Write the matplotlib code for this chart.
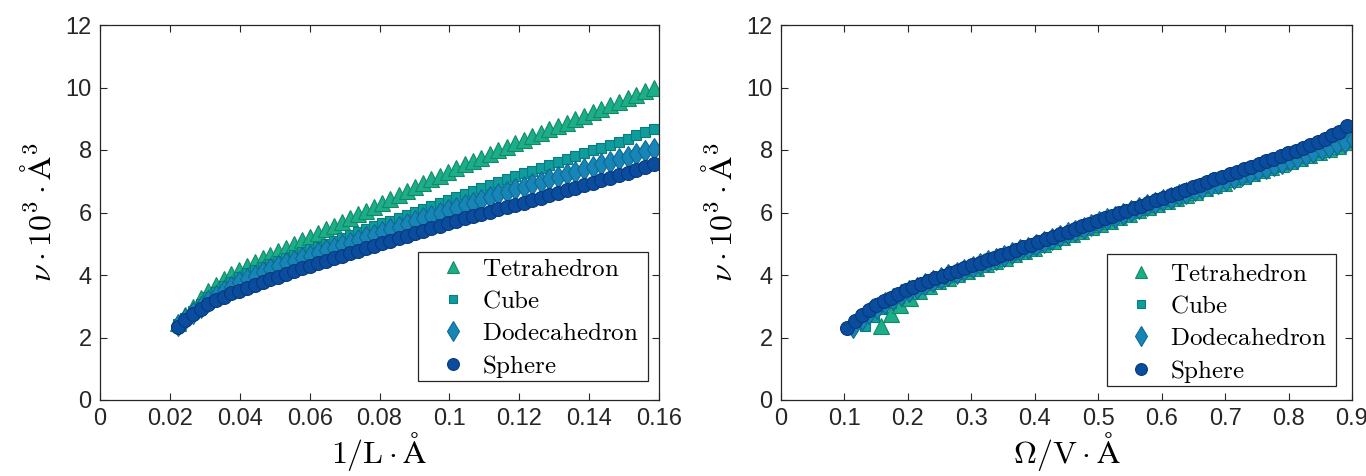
import matplotlib
matplotlib.use("Agg")
import matplotlib.pyplot as plt
from matplotlib.patches import Rectangle

plt.rcParams["mathtext.fontset"] = "cm"
plt.rcParams["font.family"] = ["Liberation Sans", "DejaVu Sans"]

# ---------------- left panel: nu vs 1/L ----------------
inv_L = [0.0223, 0.02447, 0.02665, 0.02883, 0.03102, 0.03321, 0.03541, 0.03762, 0.03984, 0.04206,
         0.04428, 0.04652, 0.04876, 0.05100, 0.05325, 0.05551, 0.05778, 0.06005, 0.06232, 0.06461,
         0.06690, 0.06919, 0.07150, 0.07380, 0.07612, 0.07844, 0.08077, 0.08310, 0.08544, 0.08779,
         0.09014, 0.09250, 0.09487, 0.09724, 0.09961, 0.10200, 0.10439, 0.10679, 0.10919, 0.11160,
         0.11401, 0.11644, 0.11886, 0.12130, 0.12374, 0.12619, 0.12864, 0.13110, 0.13357, 0.13604,
         0.13852, 0.14100, 0.14349, 0.14599, 0.14850, 0.15101, 0.15352, 0.15605, 0.15857]

nu_tetra_L = [2.45, 2.72, 2.98, 3.25, 3.49, 3.69, 3.88, 4.02, 4.17, 4.29,
              4.41, 4.53, 4.65, 4.77, 4.88, 5.00, 5.11, 5.22, 5.34, 5.46,
              5.58, 5.70, 5.82, 5.94, 6.06, 6.19, 6.31, 6.43, 6.56, 6.68,
              6.81, 6.93, 7.06, 7.18, 7.31, 7.42, 7.54, 7.65, 7.76, 7.88,
              7.99, 8.10, 8.21, 8.33, 8.44, 8.55, 8.66, 8.77, 8.88, 8.99,
              9.10, 9.21, 9.32, 9.43, 9.54, 9.65, 9.76, 9.88, 10.00]

nu_cube_L = [2.42, 2.63, 2.85, 3.08, 3.29, 3.47, 3.65, 3.79, 3.94, 4.05,
             4.15, 4.26, 4.36, 4.46, 4.55, 4.64, 4.73, 4.82, 4.91, 5.00,
             5.09, 5.18, 5.28, 5.37, 5.46, 5.56, 5.65, 5.74, 5.84, 5.93,
             6.03, 6.12, 6.22, 6.31, 6.40, 6.50, 6.60, 6.69, 6.79, 6.88,
             6.97, 7.07, 7.16, 7.25, 7.34, 7.43, 7.52, 7.61, 7.71, 7.80,
             7.90, 7.99, 8.08, 8.17, 8.26, 8.36, 8.47, 8.57, 8.68]

nu_dodeca_L = [2.40, 2.59, 2.79, 2.98, 3.16, 3.32, 3.48, 3.62, 3.77, 3.88,
               3.98, 4.09, 4.19, 4.29, 4.37, 4.45, 4.54, 4.62, 4.70, 4.79,
               4.87, 4.95, 5.04, 5.12, 5.21, 5.29, 5.38, 5.46, 5.55, 5.64,
               5.73, 5.81, 5.90, 5.98, 6.07, 6.15, 6.24, 6.32, 6.41, 6.49,
               6.58, 6.66, 6.74, 6.82, 6.90, 6.98, 7.07, 7.15, 7.23, 7.31,
               7.39, 7.47, 7.55, 7.63, 7.71, 7.79, 7.87, 7.96, 8.04]

nu_sphere_L = [2.35, 2.56, 2.75, 2.92, 3.07, 3.20, 3.31, 3.41, 3.50, 3.60,
               3.69, 3.78, 3.87, 3.95, 4.04, 4.13, 4.21, 4.30, 4.38, 4.46,
               4.54, 4.62, 4.70, 4.78, 4.86, 4.94, 5.02, 5.10, 5.18, 5.26,
               5.34, 5.42, 5.50, 5.58, 5.66, 5.74, 5.82, 5.89, 5.96, 6.03,
               6.10, 6.17, 6.24, 6.32, 6.40, 6.48, 6.56, 6.64, 6.72, 6.80,
               6.88, 6.95, 7.03, 7.11, 7.19, 7.27, 7.35, 7.45, 7.55]

# ---------------- right panel: nu vs Omega/V ----------------
sv_tetra = [0.158, 0.173, 0.188, 0.203, 0.218, 0.233, 0.248, 0.263, 0.278, 0.293,
            0.308, 0.323, 0.338, 0.353, 0.368, 0.383, 0.398, 0.413, 0.428, 0.443,
            0.458, 0.473, 0.488, 0.503, 0.518, 0.533, 0.548, 0.563, 0.578, 0.593,
            0.608, 0.623, 0.638, 0.653, 0.668, 0.683, 0.698, 0.713, 0.728, 0.743,
            0.758, 0.773, 0.788, 0.803, 0.818, 0.833, 0.848, 0.863, 0.878, 0.893, 0.908]
nu_tetra_S = [2.36, 2.75, 3.05, 3.28, 3.48, 3.66, 3.80, 3.92, 4.02, 4.14,
              4.24, 4.35, 4.45, 4.56, 4.67, 4.78, 4.88, 4.99, 5.10, 5.21,
              5.31, 5.42, 5.53, 5.64, 5.74, 5.85, 5.96, 6.07, 6.17, 6.28,
              6.38, 6.48, 6.57, 6.67, 6.77, 6.87, 6.96, 7.06, 7.16, 7.25,
              7.35, 7.45, 7.55, 7.64, 7.74, 7.84, 7.94, 8.03, 8.14, 8.25, 8.36]

sv_cube = [0.132, 0.146, 0.159, 0.173, 0.186, 0.200, 0.213, 0.227, 0.240, 0.254,
           0.267, 0.281, 0.294, 0.308, 0.321, 0.335, 0.348, 0.362, 0.375, 0.389,
           0.402, 0.416, 0.429, 0.443, 0.456, 0.470, 0.483, 0.497, 0.510, 0.524,
           0.537, 0.551, 0.564, 0.578, 0.591, 0.605, 0.618, 0.632, 0.645, 0.659,
           0.672, 0.686, 0.699, 0.713, 0.726, 0.740, 0.753, 0.767, 0.780, 0.794,
           0.807, 0.821, 0.834, 0.848, 0.861, 0.875, 0.888, 0.902]
nu_cube_S = [2.36, 2.66, 2.90, 3.10, 3.28, 3.42, 3.54, 3.67, 3.77, 3.87,
             3.97, 4.06, 4.16, 4.26, 4.35, 4.45, 4.55, 4.65, 4.74, 4.84,
             4.93, 5.03, 5.13, 5.23, 5.32, 5.42, 5.51, 5.61, 5.71, 5.81,
             5.90, 6.00, 6.09, 6.19, 6.29, 6.38, 6.46, 6.55, 6.63, 6.72,
             6.81, 6.90, 6.98, 7.07, 7.15, 7.24, 7.33, 7.42, 7.50, 7.59,
             7.67, 7.76, 7.85, 7.94, 8.02, 8.12, 8.21, 8.31]

sv_dodeca = [0.114, 0.127, 0.139, 0.152, 0.164, 0.177, 0.189, 0.202, 0.214, 0.227,
             0.239, 0.252, 0.264, 0.277, 0.289, 0.302, 0.314, 0.327, 0.339, 0.352,
             0.364, 0.377, 0.389, 0.402, 0.414, 0.427, 0.439, 0.452, 0.464, 0.477,
             0.489, 0.502, 0.514, 0.527, 0.539, 0.552, 0.564, 0.577, 0.589, 0.602,
             0.614, 0.627, 0.639, 0.652, 0.664, 0.677, 0.689, 0.702, 0.714, 0.727,
             0.739, 0.752, 0.764, 0.777, 0.789, 0.802, 0.814, 0.827, 0.839, 0.852,
             0.864, 0.877, 0.889, 0.902]
nu_dodeca_S = [2.33, 2.58, 2.77, 2.95, 3.10, 3.24, 3.37, 3.50, 3.60, 3.71,
               3.80, 3.90, 3.99, 4.07, 4.17, 4.26, 4.34, 4.44, 4.52, 4.62,
               4.70, 4.79, 4.88, 4.97, 5.06, 5.15, 5.24, 5.33, 5.42, 5.51,
               5.60, 5.69, 5.78, 5.87, 5.95, 6.05, 6.13, 6.23, 6.31, 6.39,
               6.47, 6.55, 6.63, 6.71, 6.79, 6.87, 6.95, 7.03, 7.11, 7.19,
               7.27, 7.35, 7.43, 7.51, 7.59, 7.68, 7.76, 7.84, 7.93, 8.02,
               8.10, 8.19, 8.27, 8.36]

sv_sphere = [0.104, 0.116, 0.127, 0.139, 0.150, 0.162, 0.174, 0.185, 0.197, 0.208,
             0.220, 0.231, 0.243, 0.255, 0.266, 0.278, 0.289, 0.301, 0.313, 0.324,
             0.336, 0.347, 0.359, 0.371, 0.382, 0.394, 0.405, 0.417, 0.429, 0.440,
             0.452, 0.463, 0.475, 0.486, 0.498, 0.510, 0.521, 0.533, 0.544, 0.556,
             0.568, 0.579, 0.591, 0.602, 0.614, 0.625, 0.637, 0.649, 0.660, 0.672,
             0.683, 0.695, 0.707, 0.718, 0.730, 0.741, 0.753, 0.764, 0.776, 0.788,
             0.799, 0.811, 0.822, 0.834, 0.846, 0.857, 0.869, 0.880, 0.892]
nu_sphere_S = [2.30, 2.52, 2.71, 2.88, 3.03, 3.16, 3.28, 3.40, 3.51, 3.61,
               3.71, 3.80, 3.89, 3.98, 4.06, 4.14, 4.23, 4.31, 4.39, 4.47,
               4.56, 4.64, 4.72, 4.81, 4.89, 4.97, 5.06, 5.14, 5.22, 5.31,
               5.39, 5.47, 5.56, 5.64, 5.72, 5.81, 5.89, 5.97, 6.06, 6.14,
               6.22, 6.31, 6.39, 6.47, 6.56, 6.64, 6.72, 6.81, 6.89, 6.97,
               7.06, 7.14, 7.22, 7.31, 7.39, 7.47, 7.56, 7.64, 7.72, 7.81,
               7.89, 7.98, 8.07, 8.16, 8.26, 8.36, 8.47, 8.59, 8.76]

labels = ["Tetrahedron", "Cube", "Dodecahedron", "Sphere"]
left_ticks = [0, 0.02, 0.04, 0.06, 0.08, 0.1, 0.12, 0.14, 0.16]
left_ticklabels = ["0", "0.02", "0.04", "0.06", "0.08", "0.1", "0.12", "0.14", "0.16"]
right_ticks = [0, 0.1, 0.2, 0.3, 0.4, 0.5, 0.6, 0.7, 0.8, 0.9]
right_ticklabels = ["0", "0.1", "0.2", "0.3", "0.4", "0.5", "0.6", "0.7", "0.8", "0.9"]
y_ticks = [0, 2, 4, 6, 8, 10, 12]

# marker styles per shape: (marker, size, face, edge)
styles = [
    ("^", 11.0, "#1cae88", "#128a68"),
    ("s", 7.5, "#0f9c9c", "#0a7c7e"),
    ("d", 11.5, "#1786b6", "#0f6896"),
    ("o", 10.0, "#0a4d9e", "#07397a"),
]

AXC = "#262626"

fig = plt.figure(figsize=(13.66, 4.76), dpi=100)
ax1 = fig.add_axes([100 / 1366, 76 / 476, 559 / 1366, 375 / 476])
ax2 = fig.add_axes([781 / 1366, 76 / 476, 571 / 1366, 375 / 476])


def draw(ax, xs, ys):
    for x, y, lab, (m, ms, fc, ec) in zip(xs, ys, labels, styles):
        ax.plot(x, y, linestyle="none", marker=m, markersize=ms,
                markerfacecolor=fc, markeredgecolor=ec, markeredgewidth=0.8,
                label=r"$\mathrm{" + lab + "}$")


draw(ax1, [inv_L] * 4, [nu_tetra_L, nu_cube_L, nu_dodeca_L, nu_sphere_L])
draw(ax2, [sv_tetra, sv_cube, sv_dodeca, sv_sphere],
     [nu_tetra_S, nu_cube_S, nu_dodeca_S, nu_sphere_S])

for ax, ticks, tlabels, xmax in [(ax1, left_ticks, left_ticklabels, 0.16),
                                  (ax2, right_ticks, right_ticklabels, 0.9)]:
    ax.set_xlim(0, xmax)
    ax.set_ylim(0, 12)
    ax.set_xticks(ticks)
    ax.set_xticklabels(tlabels)
    ax.set_yticks(y_ticks)
    ax.tick_params(direction="in", top=True, right=True, length=5, width=0.8,
                   colors=AXC, labelsize=17, pad=6)
    for sp in ax.spines.values():
        sp.set_color(AXC)
        sp.set_linewidth(0.9)
    ax.set_ylabel(r"$\nu\cdot 10^3\cdot \mathrm{\AA}^3$", fontsize=23, labelpad=6)

ax1.set_xlabel(r"$1/\mathrm{L}\cdot\mathrm{\AA}$", fontsize=23, labelpad=0)
ax2.set_xlabel(r"$\Omega/\mathrm{V}\cdot\mathrm{\AA}$", fontsize=23, labelpad=0)

# legend box drawn as its own rectangle (axes fractions), entries placed inside it
legend_boxes = {
    ax1: ((0.569, 0.051), 0.980 - 0.569, 0.395 - 0.051, (0.594, 0.051)),
    ax2: ((0.571, 0.037), 0.972 - 0.571, 0.389 - 0.037, (0.594, 0.037)),
}
for ax, (xy, w, h, anchor) in legend_boxes.items():
    ax.add_patch(Rectangle(xy, w, h, transform=ax.transAxes, facecolor="white",
                           edgecolor=AXC, linewidth=0.9, zorder=4.5))
    leg = ax.legend(loc="lower left", bbox_to_anchor=anchor, fontsize=18,
                    frameon=False, borderpad=0.05, labelspacing=0.32,
                    handletextpad=0.36, handlelength=1.6, borderaxespad=0,
                    markerscale=0.85)
    leg.set_zorder(5)

fig.savefig("out.png", dpi=100)
